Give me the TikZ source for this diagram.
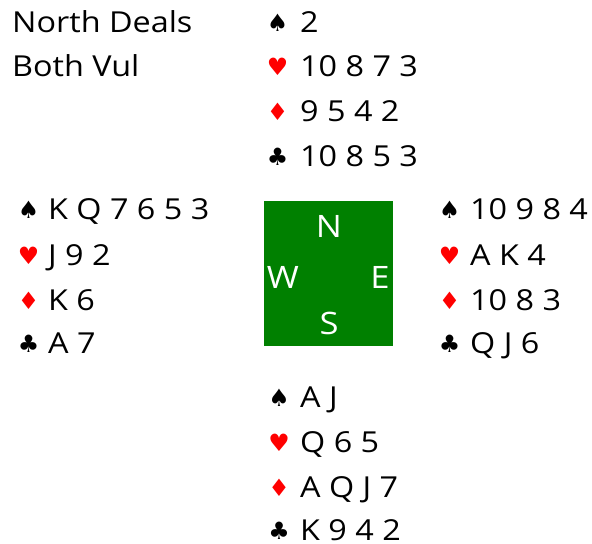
\documentclass[tikz,border=0pt]{standalone}
\usepackage{fontspec}
\setmainfont{Open Sans}[FakeStretch=1.12]
\newfontfamily\suitfont{DejaVu Sans}
\definecolor{tablegreen}{RGB}{0,128,0}
\definecolor{suitred}{RGB}{255,0,0}
\tikzset{
  txt/.style={anchor=base west, inner sep=0pt, text depth=0pt, font=\fontsize{29}{29}\selectfont},
  suit/.style={anchor=base, inner sep=0pt, text depth=0pt, font=\suitfont\fontsize{24}{24}\selectfont},
  redsuit/.style={suit, text=suitred},
  seat/.style={anchor=base, inner sep=0pt, text=white, font=\fontsize{31}{31}\selectfont},
}
\begin{document}
\begin{tikzpicture}[x=1bp,y=-1bp]
\useasboundingbox (0,0) rectangle (592,544);
% title
\node[txt] (t1) at (12,33) {North Deals};
\node[txt] (t2) at (12,77) {Both Vul};
% table
\node[fill=tablegreen, minimum width=129bp, minimum height=145bp, inner sep=0pt] (table) at (328.5,273.5) {};
\node[seat] (sN) at (329,237) {N};
\node[seat] (sW) at (283,288) {W};
\node[seat] (sE) at (380,288) {E};
\node[seat] (sS) at (329,334) {S};
% North
\node[suit] (ns) at (277.5,32) {♠};
\node[txt] (nsc) at (300,33) {2};
\node[redsuit] (nh) at (277.5,76) {♥};
\node[txt] (nhc) at (300,77) {10 8 7 3};
\node[redsuit] (nd) at (277.5,121) {♦};
\node[txt] (ndc) at (300,122) {9 5 4 2};
\node[suit] (nc) at (277.5,166) {♣};
\node[txt] (ncc) at (300,167) {10 8 5 3};
% West
\node[suit] (ws) at (28.5,219) {♠};
\node[txt] (wsc) at (48,220) {K Q 7 6 5 3};
\node[redsuit] (wh) at (28.5,264) {♥};
\node[txt] (whc) at (48,265) {J 9 2};
\node[redsuit] (wd) at (28.5,309) {♦};
\node[txt] (wdc) at (48,310) {K 6};
\node[suit] (wc) at (28.5,352) {♣};
\node[txt] (wcc) at (48,353) {A 7};
% East
\node[suit] (es) at (449.5,219) {♠};
\node[txt] (esc) at (470,220) {10 9 8 4};
\node[redsuit] (eh) at (449.5,264) {♥};
\node[txt] (ehc) at (470,265) {A K 4};
\node[redsuit] (ed) at (449.5,309) {♦};
\node[txt] (edc) at (470,310) {10 8 3};
\node[suit] (ec) at (449.5,352) {♣};
\node[txt] (ecc) at (470,353) {Q J 6};
% South
\node[suit] (ss) at (279,406) {♠};
\node[txt] (ssc) at (300,407) {A J};
\node[redsuit] (sh) at (279,451) {♥};
\node[txt] (shc) at (300,452) {Q 6 5};
\node[redsuit] (sd) at (279,496) {♦};
\node[txt] (sdc) at (300,497) {A Q J 7};
\node[suit] (sc) at (279,539) {♣};
\node[txt] (scc) at (300,540) {K 9 4 2};
\end{tikzpicture}
\end{document}
